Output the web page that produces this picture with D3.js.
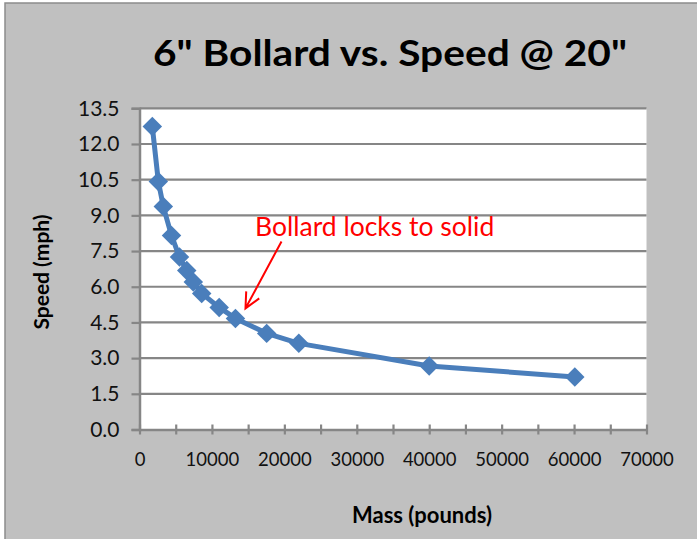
<!DOCTYPE html>
<html>
<head>
<meta charset="utf-8">
<script src="https://cdn.jsdelivr.net/npm/d3@7"></script>
<style>
  body { margin: 0; background: #fff; }
  svg { display: block; font-family: Lato, "Open Sans", sans-serif; }
</style>
</head>
<body>
<svg id="chart" width="697" height="539"></svg>
<script>
// values
var mass = [1770, 2600, 3290, 4420, 5520, 6520, 7430, 8590, 11000, 13250, 17560, 22000, 40000, 60100];
var speed = [12.73, 10.42, 9.37, 8.15, 7.25, 6.68, 6.2, 5.72, 5.13, 4.67, 4.04, 3.62, 2.67, 2.21];
var yTicks = [0, 1.5, 3, 4.5, 6, 7.5, 9, 10.5, 12, 13.5];
var xTicks = [0, 5000, 10000, 15000, 20000, 25000, 30000, 35000, 40000, 45000, 50000, 55000, 60000, 65000, 70000];
var xLabels = [0, 10000, 20000, 30000, 40000, 50000, 60000, 70000];
var note = { text: "Bollard locks to solid", mass: 13250, speed: 4.67 };

var data = mass.map(function(m, i) { return { mass: m, speed: speed[i] }; });

var svg = d3.select("#chart");
var plot = { left: 139.5, right: 646.5, top: 108.3, bottom: 429.5 };
var gridColor = "#868686";

// chart background with its frame
svg.append("rect")
    .attr("x", 5).attr("y", 3)
    .attr("width", 700).attr("height", 540)
    .attr("fill", "#c0c0c0")
    .attr("stroke", "#8c8c8c")
    .attr("stroke-width", 1.5);

var x = d3.scaleLinear().domain([0, 70000]).range([plot.left, plot.right]);
var y = d3.scaleLinear().domain([0, 13.5]).range([plot.bottom, plot.top]);

svg.append("rect")
    .attr("x", plot.left).attr("y", plot.top)
    .attr("width", plot.right - plot.left).attr("height", plot.bottom - plot.top)
    .attr("fill", "#fff");

// horizontal gridlines
svg.append("g")
    .selectAll("line")
    .data(yTicks.slice(1))
    .join("line")
    .attr("x1", plot.left).attr("x2", plot.right)
    .attr("y1", function(d) { return y(d); })
    .attr("y2", function(d) { return y(d); })
    .attr("stroke", gridColor)
    .attr("stroke-width", 2.2);

// y axis
var yAxis = svg.append("g")
    .attr("transform", "translate(" + plot.left + ",0)")
    .call(d3.axisLeft(y).tickValues(yTicks).tickSize(8).tickPadding(12)
        .tickFormat(d3.format(".1f")));
yAxis.select(".domain").attr("stroke", gridColor).attr("stroke-width", 2.5);
yAxis.selectAll(".tick line").attr("stroke", gridColor).attr("stroke-width", 2.2);
yAxis.selectAll(".tick text")
    .attr("font-size", 21).attr("fill", "#111")
    .attr("font-family", "Lato, sans-serif");

// x axis, ticks every 5000, labels every 10000
var xAxis = svg.append("g")
    .attr("transform", "translate(0," + plot.bottom + ")")
    .call(d3.axisBottom(x).tickValues(xTicks).tickSizeInner(5).tickSizeOuter(0).tickPadding(18)
        .tickFormat(function(d) { return xLabels.indexOf(d) >= 0 ? d : ""; }));
xAxis.select(".domain").attr("stroke", gridColor).attr("stroke-width", 2.5);
xAxis.selectAll(".tick line")
    .attr("y1", -5)
    .attr("stroke", gridColor).attr("stroke-width", 2.2);
xAxis.selectAll(".tick text")
    .attr("font-size", 18.5).attr("fill", "#111")
    .attr("font-family", "Lato, sans-serif");

// series line + diamond markers
var line = d3.line()
    .x(function(d) { return x(d.mass); })
    .y(function(d) { return y(d.speed); });

svg.append("path")
    .datum(data)
    .attr("fill", "none")
    .attr("stroke", "#4a7ebb")
    .attr("stroke-width", 5)
    .attr("stroke-linejoin", "round")
    .attr("d", line);

var diamond = d3.symbol().type(d3.symbolSquare).size(190);
svg.append("g")
    .selectAll("path")
    .data(data)
    .join("path")
    .attr("transform", function(d) {
        return "translate(" + x(d.mass) + "," + y(d.speed) + ") rotate(45)";
    })
    .attr("d", diamond)
    .attr("fill", "#4a7ebb");

// title
svg.append("text")
    .attr("x", 390).attr("y", 66)
    .attr("text-anchor", "middle")
    .attr("font-size", 37)
    .attr("font-weight", "bold")
    .attr("fill", "#000")
    .attr("textLength", 474)
    .attr("lengthAdjust", "spacingAndGlyphs")
    .text("6\" Bollard vs. Speed @ 20\"");

// axis titles
svg.append("text")
    .attr("transform", "translate(49,272) rotate(-90)")
    .attr("text-anchor", "middle")
    .attr("font-size", 21)
    .attr("font-weight", "bold")
    .text("Speed (mph)");

svg.append("text")
    .attr("x", 422).attr("y", 523)
    .attr("text-anchor", "middle")
    .attr("font-size", 22)
    .attr("font-weight", "bold")
    .text("Mass (pounds)");

// annotation with arrow pointing at the lock-up point
var tipX = x(note.mass) + 10, tipY = y(note.speed) - 10;
svg.append("text")
    .attr("x", 255).attr("y", 236)
    .attr("font-size", 26.5)
    .attr("fill", "#ff0000")
    .text(note.text);

var tailX = 281.5, tailY = 241.5;
var ang = Math.atan2(tipY - tailY, tipX - tailX);
var wing = 17;
svg.append("path")
    .attr("d", "M" + tailX + "," + tailY + "L" + tipX + "," + tipY +
        "M" + (tipX - wing * Math.cos(ang - 0.45)) + "," + (tipY - wing * Math.sin(ang - 0.45)) +
        "L" + tipX + "," + tipY +
        "L" + (tipX - wing * Math.cos(ang + 0.45)) + "," + (tipY - wing * Math.sin(ang + 0.45)))
    .attr("fill", "none")
    .attr("stroke", "#ff0000")
    .attr("stroke-width", 2);
</script>
</body>
</html>
